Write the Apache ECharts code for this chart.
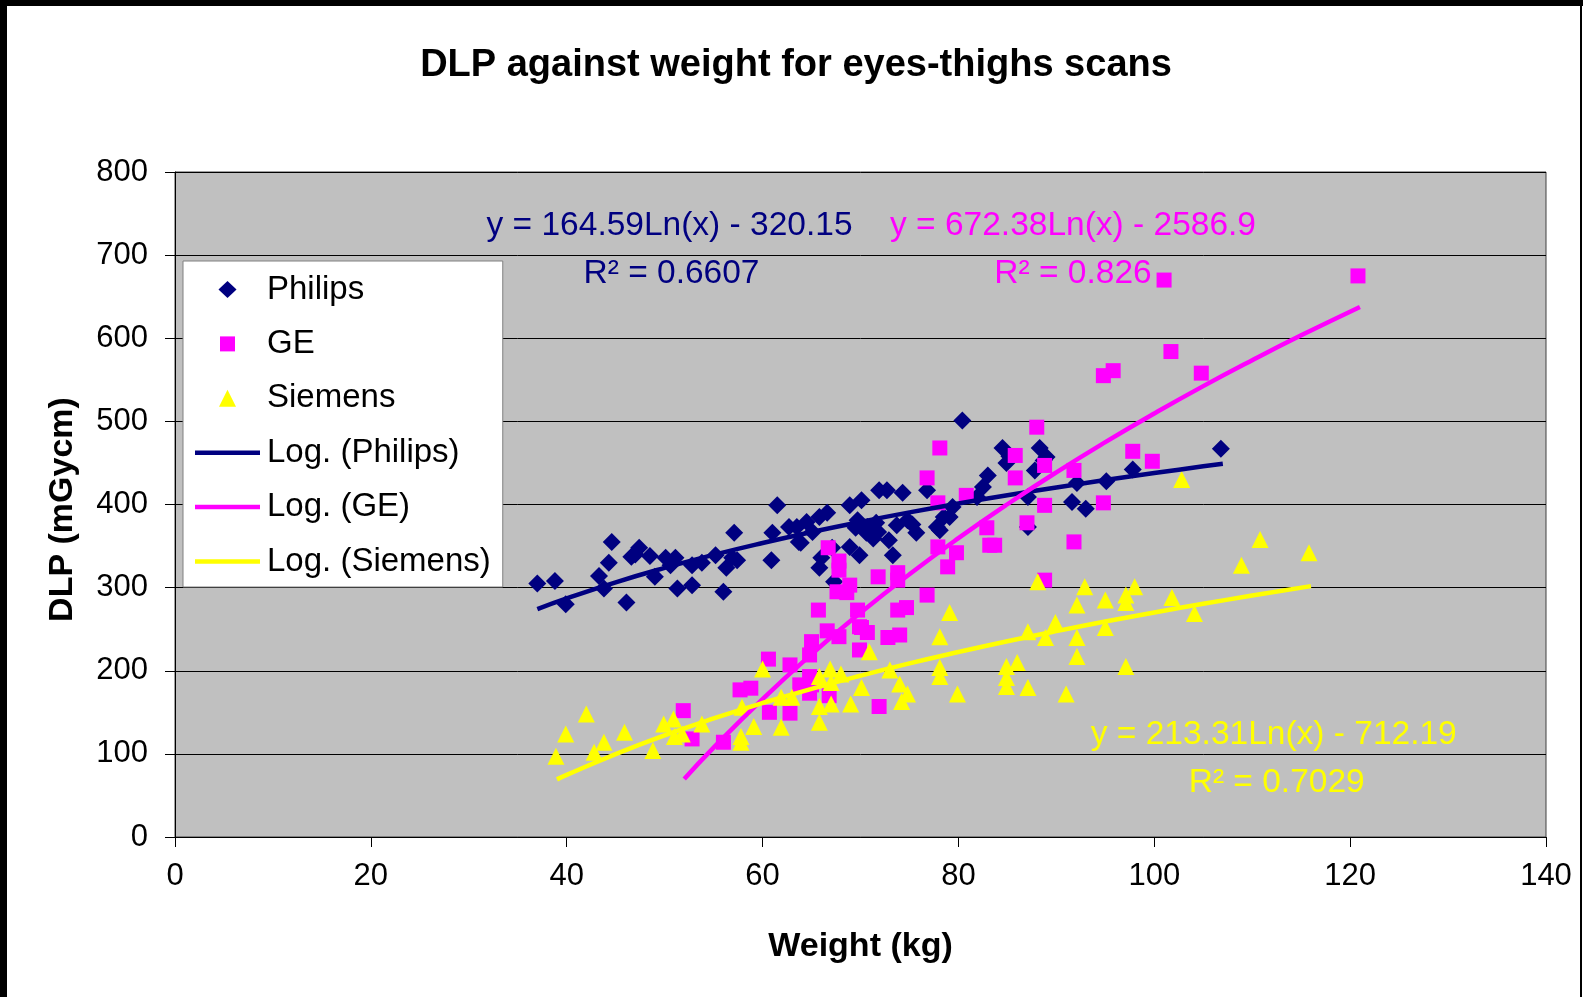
<!DOCTYPE html>
<html><head><meta charset="utf-8">
<script src="https://cdn.jsdelivr.net/npm/echarts@6/dist/echarts.min.js"></script>
<style>html,body{margin:0;padding:0;background:#fff;}#c{width:1583px;height:997px;}</style>
</head><body><div id="c"></div>
<script>
// ---- data ----
const philips = [[37.0,305],[38.8,308],[39.9,280],[43.3,314],[43.8,299],[44.3,330],[44.6,355],[46.1,282],[46.6,337],[47.4,348],[47.0,340],[48.5,338],[49.0,313],[50.1,336],[50.6,327],[51.1,336],[51.3,299],[52.8,303],[52.8,327],[53.8,330],[55.2,339],[56.0,295],[56.3,324],[56.9,336],[57.1,366],[57.4,333],[60.9,333],[61.0,366],[61.5,399],[62.7,373],[63.5,373],[63.7,355],[63.9,354],[64.5,379],[65.1,367],[65.8,385],[66.6,390],[66.0,336],[65.8,324],[67.1,348],[67.3,307],[68.9,399],[70.1,405],[69.7,381],[69.5,372],[68.9,349],[69.9,339],[70.6,366],[70.7,373],[71.3,359],[71.6,378],[71.8,367],[71.9,417],[72.7,417],[74.3,414],[72.9,357],[73.3,339],[73.7,375],[74.8,381],[75.3,376],[75.7,366],[76.8,417],[77.8,373],[78.1,369],[78.5,385],[79.1,385],[79.4,397],[80.4,501],[81.9,409],[82.5,421],[83.0,435],[84.5,468],[84.9,450],[85.2,458],[87.1,409],[87.1,373],[87.8,441],[88.3,468],[88.7,453],[89.0,457],[91.6,403],[92.1,426],[93.0,395],[95.1,428],[97.8,442],[106.8,467]];
const ge = [[51.9,152],[52.8,118],[56.0,114],[57.7,177],[58.8,179],[60.6,214],[60.7,150],[62.8,207],[62.8,149],[63.8,183],[64.8,173],[64.8,219],[64.8,193],[65.0,183],[65.0,235],[65.7,273],[66.6,248],[66.7,348],[66.8,170],[67.8,332],[67.8,321],[67.6,295],[67.8,241],[68.9,303],[68.6,294],[69.7,273],[69.9,253],[69.9,225],[70.1,252],[70.7,246],[71.8,313],[71.9,157],[72.8,240],[73.8,318],[73.8,309],[73.8,273],[74.0,243],[74.7,276],[76.8,291],[76.8,432],[77.9,349],[78.1,468],[77.9,402],[78.9,325],[79.8,342],[80.8,411],[82.9,372],[83.2,351],[83.7,351],[85.8,459],[85.8,432],[87.0,378],[88.0,493],[88.8,447],[88.8,399],[88.8,309],[91.8,355],[91.8,441],[94.8,402],[94.8,555],[95.8,561],[97.8,464],[99.8,452],[101.0,670],[101.7,584],[104.8,558],[120.8,675]];
const siemens = [[38.9,97],[39.9,124],[42.0,148],[42.8,102],[43.8,114],[45.9,126],[48.8,104],[49.9,136],[50.9,142],[51.0,121],[51.8,124],[53.8,136],[57.9,156],[57.8,121],[57.8,114],[59.1,133],[60.0,202],[61.9,132],[61.9,168],[63.0,168],[65.8,193],[65.8,157],[65.8,138],[66.9,202],[68.0,196],[67.0,186],[67.0,160],[69.0,160],[70.1,180],[70.9,223],[73.0,201],[74.0,184],[74.8,172],[74.2,163],[78.1,241],[79.1,270],[78.1,204],[78.1,193],[79.9,172],[84.9,205],[84.9,192],[84.9,181],[86.0,210],[87.1,180],[87.1,247],[88.1,307],[88.9,240],[89.9,258],[91.0,172],[92.1,217],[92.1,240],[92.1,279],[92.9,301],[95.0,285],[95.0,252],[97.1,205],[97.1,282],[97.1,291],[98.0,301],[101.8,288],[102.8,430],[104.1,269],[108.9,327],[110.8,358],[115.8,342]];
// trend lines (points along the fitted log curves shown)
const logPhilips = [[37,274.2],[40,287.0],[45,306.4],[50,323.7],[55,339.4],[60,353.7],[65,366.9],[70,379.1],[75,390.5],[80,401.1],[85,411.1],[90,420.5],[95,429.4],[100,437.8],[105,445.9],[107,448.9]];
const logGE = [[52,69.8],[55,107.5],[60,166.0],[65,219.9],[70,269.7],[75,316.1],[80,359.5],[85,400.3],[90,438.7],[95,475.0],[100,509.5],[105,542.4],[110,573.6],[115,603.5],[121,637.7]];
const logSiemens = [[39,69.3],[40,74.7],[45,99.8],[50,122.3],[55,142.6],[60,161.2],[65,178.2],[70,194.0],[75,208.8],[80,222.5],[85,235.5],[90,247.7],[95,259.2],[100,270.1],[105,280.5],[110,290.5],[116,301.8]];
const seriesNames = ['Philips','GE','Siemens','Log. (Philips)','Log. (GE)','Log. (Siemens)'];
const LINE_ICON = 'path://M0,0 L65,0 L65,4.5 L0,4.5 Z';
const legendIcons = ['path://M9,0 L18,8.5 L9,17 L0,8.5 Z','path://M0,0 M17,17 M1,1 L16,1 L16,16 L1,16 Z','path://M8.5,0 L17,17 L0,17 Z',LINE_ICON,LINE_ICON,LINE_ICON];
const colors = ['#000080','#FF00FF','#FFFF00'];
const equations = [
  {text:'y = 164.59Ln(x) - 320.15', at:[50.5,735], color:'#000080'},
  {text:'R² = 0.6607', at:[50.7,678], color:'#000080'},
  {text:'y = 672.38Ln(x) - 2586.9', at:[91.7,735], color:'#FF00FF'},
  {text:'R² = 0.826', at:[91.7,678], color:'#FF00FF'},
  {text:'y = 213.31Ln(x) - 712.19', at:[112.2,122.5], color:'#FFFF00'},
  {text:'R² = 0.7029', at:[112.5,65], color:'#FFFF00'}
];
const FF = "'Liberation Sans', Arial, sans-serif";

const chart = echarts.init(document.getElementById('c'), null, {renderer:'canvas'});
const option = {
  backgroundColor:'#fff',
  animation:false,
  title:{text:'DLP against weight for eyes-thighs scans', left:791, textAlign:'center', top:42,
    textStyle:{fontFamily:FF, fontWeight:'bold', fontSize:38, color:'#000'}},
  grid:{left:175, right:37, top:172, bottom:160, show:true, backgroundColor:'#c0c0c0', borderColor:'#404040', borderWidth:1},
  legend:{orient:'vertical', left:183, top:261, backgroundColor:'#fff', borderColor:'#808080', borderWidth:1,
    padding:[12,12,9,12], itemWidth:65, itemHeight:17, itemGap:21.4, symbolKeepAspect:true,
    textStyle:{fontFamily:FF, fontSize:33, color:'#000', lineHeight:31, padding:[0,0,0,2]},
    data:seriesNames.map((n,i)=>({name:n, icon:legendIcons[i]}))},
  xAxis:{type:'value', min:0, max:140, interval:20,
    name:'Weight (kg)', nameLocation:'middle', nameGap:93,
    nameTextStyle:{fontFamily:FF, fontWeight:'bold', fontSize:34, color:'#000'},
    axisLine:{show:true, lineStyle:{color:'#000', width:1}},
    axisTick:{show:true, length:10, lineStyle:{color:'#000'}},
    axisLabel:{fontFamily:FF, fontSize:31, color:'#000', margin:24},
    splitLine:{show:false}},
  yAxis:{type:'value', min:0, max:800, interval:100,
    name:'DLP (mGycm)', nameLocation:'middle', nameGap:95, nameRotate:90,
    nameTextStyle:{fontFamily:FF, fontWeight:'bold', fontSize:34, color:'#000', padding:[0,10,0,0]},
    axisLine:{show:true, lineStyle:{color:'#000', width:1}},
    axisTick:{show:true, length:10, lineStyle:{color:'#000'}},
    axisLabel:{fontFamily:FF, fontSize:31, color:'#000', margin:27},
    splitLine:{show:true, lineStyle:{color:'#000', width:1}}},
  series:[
    {name:'Philips', type:'scatter', data:philips, symbol:'diamond', symbolSize:18, itemStyle:{color:colors[0], opacity:1}, z:2},
    {name:'GE', type:'scatter', data:ge, symbol:'rect', symbolSize:15, itemStyle:{color:colors[1], opacity:1}, z:3},
    {name:'Siemens', type:'scatter', data:siemens, symbol:'triangle', symbolSize:17, itemStyle:{color:colors[2], opacity:1}, z:4},
    {name:'Log. (Philips)', type:'line', data:logPhilips, smooth:true, showSymbol:false, symbol:'none', lineStyle:{color:colors[0], width:4.5}, itemStyle:{color:colors[0]}, z:5},
    {name:'Log. (GE)', type:'line', data:logGE, smooth:true, showSymbol:false, symbol:'none', lineStyle:{color:colors[1], width:4.5}, itemStyle:{color:colors[1]}, z:5},
    {name:'Log. (Siemens)', type:'line', data:logSiemens, smooth:true, showSymbol:false, symbol:'none', lineStyle:{color:colors[2], width:4.5}, itemStyle:{color:colors[2]}, z:5}
  ]
};
chart.setOption(option);
const g = [
  {type:'rect', shape:{x:0,y:0,width:1583,height:6}, style:{fill:'#000'}, z:100},
  {type:'rect', shape:{x:0,y:0,width:7,height:997}, style:{fill:'#000'}, z:100},
  {type:'rect', shape:{x:1580,y:0,width:2,height:997}, style:{fill:'#000'}, z:100}
];
equations.forEach(e=>{
  const p = chart.convertToPixel({gridIndex:0}, e.at);
  g.push({type:'text', x:p[0], y:p[1], z:50,
    style:{text:e.text, fill:e.color, font:"33.5px 'Liberation Sans', Arial, sans-serif", align:'center', verticalAlign:'middle'}});
});
chart.setOption({graphic:g});
</script></body></html>
